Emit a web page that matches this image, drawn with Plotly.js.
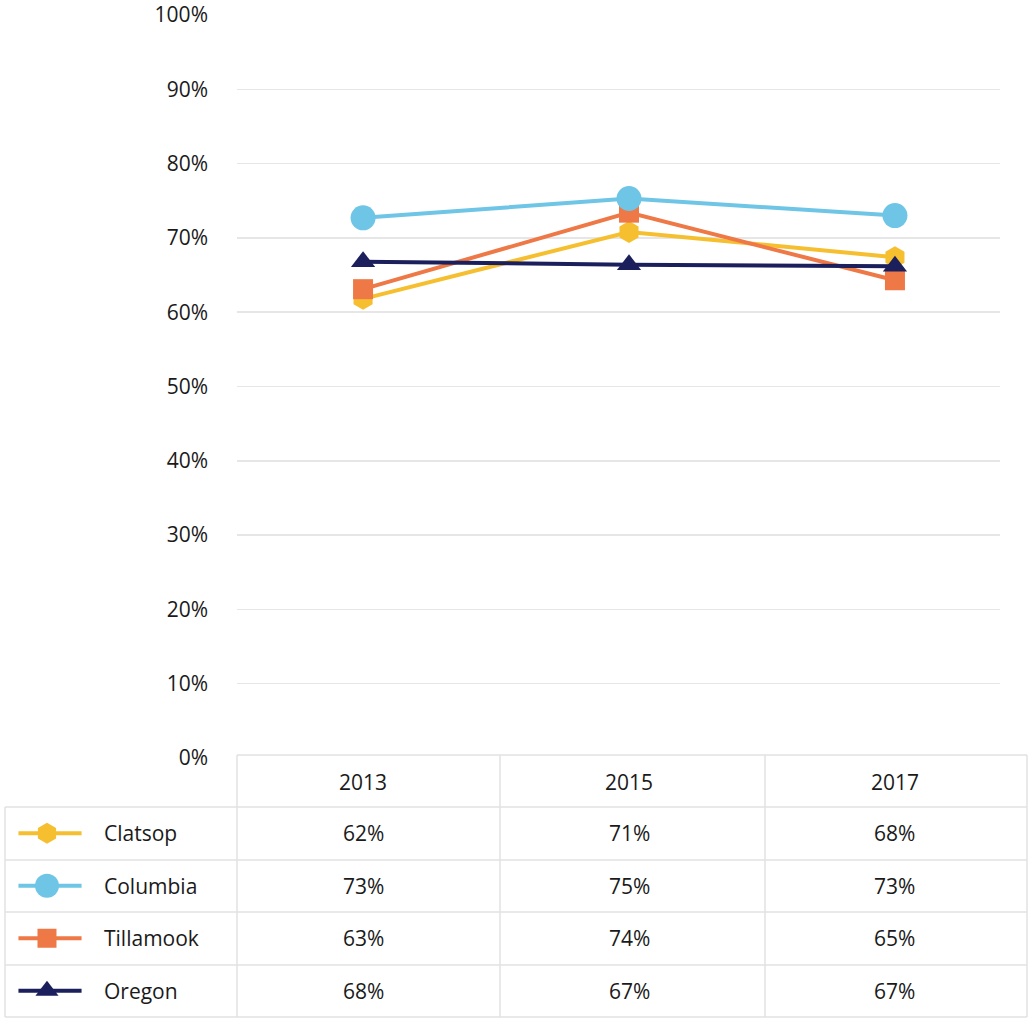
<!DOCTYPE html>
<html>
<head>
<meta charset="utf-8">
<script src="https://cdn.plot.ly/plotly-3.0.1.min.js"></script>
<style>html,body{margin:0;padding:0;background:#fff;}#chart{width:1028px;height:1018px;}</style>
</head>
<body>
<div id="chart"></div>
<script>
// ---- data ----
const years = ['2013', '2015', '2017'];
const seriesNames = ['Clatsop', 'Columbia', 'Tillamook', 'Oregon'];
const clatsop = [61.8, 70.8, 67.4];
const columbia = [72.7, 75.3, 73.0];
const tillamook = [63.1, 73.4, 64.3];
const oregon = [66.8, 66.4, 66.2];
const clatsopLabels = ['62%', '71%', '68%'];
const columbiaLabels = ['73%', '75%', '73%'];
const tillamookLabels = ['63%', '74%', '65%'];
const oregonLabels = ['68%', '67%', '67%'];
const yTicks = [0, 10, 20, 30, 40, 50, 60, 70, 80, 90, 100];
const yTickText = ['0%', '10%', '20%', '30%', '40%', '50%', '60%', '70%', '80%', '90%', '100%'];

// ---- styles ----
const W = 1028, H = 1018;
const styles = {
  Clatsop:   {color: '#F5BF2F', symbol: 'hexagon', size: 22},
  Columbia:  {color: '#6EC5E6', symbol: 'circle', size: 25},
  Tillamook: {color: '#EE7846', symbol: 'square', size: 20},
  Oregon:    {color: '#1B1F5C', symbol: 'triangle-up', size: 21}
};
const values = {Clatsop: clatsop, Columbia: columbia, Tillamook: tillamook, Oregon: oregon};
const labels = {Clatsop: clatsopLabels, Columbia: columbiaLabels, Tillamook: tillamookLabels, Oregon: oregonLabels};
const drawOrder = ['Clatsop', 'Tillamook', 'Columbia', 'Oregon'];

const px = x => x / W;          // pixel -> paper x
const py = y => (H - y) / H;    // pixel -> paper y

const traces = [];
drawOrder.forEach(name => {
  const s = styles[name];
  traces.push({
    type: 'scatter', mode: 'lines+markers', name: name,
    x: years.map((_, i) => i), y: values[name],
    xaxis: 'x', yaxis: 'y',
    line: {color: s.color, width: 4},
    marker: {color: s.color, symbol: s.symbol, size: s.size, opacity: 1},
    showlegend: false, hoverinfo: 'skip', cliponaxis: false
  });
});
// legend keys inside the data table
seriesNames.forEach(name => {
  const s = styles[name];
  traces.push({
    type: 'scatter', mode: 'lines',
    x: [0.058, 0.33], y: [name, name],
    xaxis: 'x2', yaxis: 'y2',
    line: {color: s.color, width: 4},
    showlegend: false, hoverinfo: 'skip', cliponaxis: false
  });
  traces.push({
    type: 'scatter', mode: 'markers',
    x: [0.181], y: [name],
    xaxis: 'x2', yaxis: 'y2',
    marker: {color: s.color, symbol: s.symbol, size: s.size - 1, opacity: 1},
    showlegend: false, hoverinfo: 'skip', cliponaxis: false
  });
});

const annotations = [];
const fontTxt = {family: 'Open Sans, Noto Sans, sans-serif', size: 21, color: '#1a1a1a'};
seriesNames.forEach(name => {
  annotations.push({xref: 'x2', yref: 'y2', x: 0.418, y: name, text: name,
    showarrow: false, xanchor: 'left', yanchor: 'middle', font: fontTxt});
  labels[name].forEach((t, i) => {
    annotations.push({xref: 'x', yref: 'y2', x: i, y: name, text: t,
      showarrow: false, xanchor: 'center', yanchor: 'middle', font: fontTxt});
  });
});

// table grid
const bc = '#e2e2e2';
const shapes = [];
const rowLines = [755, 807, 860, 912, 965, 1017];
rowLines.forEach((y, k) => {
  shapes.push({type: 'line', xref: 'paper', yref: 'paper',
    x0: px(k === 0 ? 237 : 5), x1: px(1027), y0: py(y), y1: py(y),
    line: {color: bc, width: 1.5}, layer: 'below'});
});
[237, 500, 765, 1027].forEach(x => {
  shapes.push({type: 'line', xref: 'paper', yref: 'paper',
    x0: px(x), x1: px(x), y0: py(755), y1: py(1017),
    line: {color: bc, width: 1.5}, layer: 'below'});
});
shapes.push({type: 'line', xref: 'paper', yref: 'paper',
  x0: px(5), x1: px(5), y0: py(807), y1: py(1017),
  line: {color: bc, width: 1.5}, layer: 'below'});

const layout = {
  width: W, height: H,
  margin: {l: 0, r: 0, t: 0, b: 0},
  paper_bgcolor: '#fff', plot_bgcolor: '#fff',
  font: fontTxt,
  showlegend: false,
  xaxis: {
    domain: [px(237), px(1000)], range: [-0.474, 2.395],
    tickvals: [0, 1, 2], ticktext: years,
    showgrid: false, zeroline: false, showline: false, ticks: '',
    ticklabelstandoff: 10, tickfont: fontTxt, fixedrange: true, anchor: 'y'
  },
  yaxis: {
    domain: [py(758), py(15)], range: [0, 100],
    tickvals: yTicks, ticktext: yTickText,
    showgrid: true, gridcolor: '#e6e6e6', gridwidth: 1.5,
    zeroline: false, showline: false, ticks: '',
    ticklabelstandoff: 28, tickfont: fontTxt, fixedrange: true, anchor: 'x'
  },
  xaxis2: {
    domain: [px(5), px(237)], range: [0, 1], visible: false, fixedrange: true, anchor: 'y2'
  },
  yaxis2: {
    domain: [py(1017), py(807)], type: 'category', categoryarray: seriesNames,
    range: [3.5, -0.5], visible: false, fixedrange: true, anchor: 'x2'
  },
  annotations: annotations,
  shapes: shapes
};

Plotly.newPlot('chart', traces, layout, {displayModeBar: false, staticPlot: true});
</script>
</body>
</html>
